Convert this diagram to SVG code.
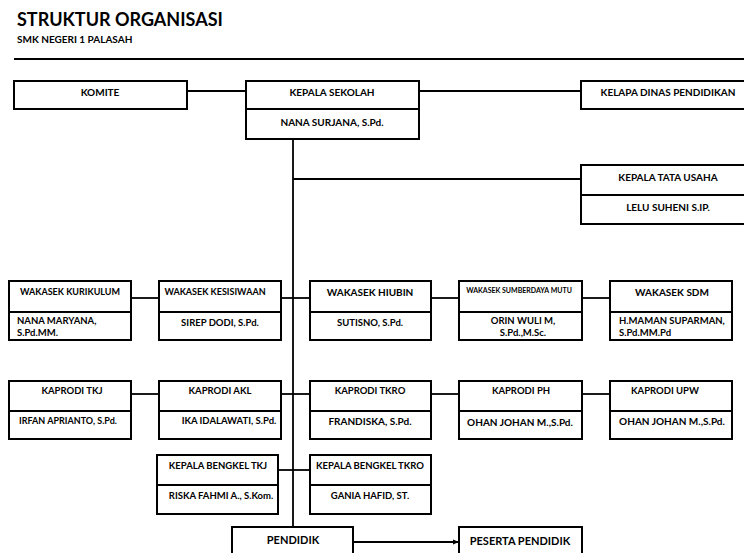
<svg xmlns="http://www.w3.org/2000/svg" width="744" height="553" viewBox="0 0 744 553">
<style>
  text { font-family: Lato, "Open Sans", "Liberation Sans", sans-serif; font-weight: bold; fill: #000; }
  .box { fill: #fff; stroke: #000; stroke-width: 2; }
  .div { stroke: #000; stroke-width: 2; }
  .c { text-anchor: middle; font-size: 10px; }
  .s { text-anchor: middle; font-size: 9.5px; }
  .n { text-anchor: middle; font-size: 9px; }
  .l { text-anchor: start; font-size: 9.5px; }
  .tiny { text-anchor: middle; font-size: 7px; }
  .big { text-anchor: middle; font-size: 11px; }
  .conn line { stroke: #000; stroke-width: 1.8; fill: none; }
</style>
<defs>
  <marker id="arrow" viewBox="0 0 10 10" refX="10" refY="5" markerWidth="6" markerHeight="6" markerUnits="userSpaceOnUse" orient="auto">
    <path d="M0,1 L10,5 L0,9 Z" fill="#000"/>
  </marker>
</defs>
<rect width="744" height="553" fill="#fff"/>
<g id="header">
  <text x="17" y="26" font-size="18">STRUKTUR ORGANISASI</text>
  <text x="17" y="43" font-size="10">SMK NEGERI 1 PALASAH</text>
  <line x1="14" y1="59" x2="744" y2="59" stroke="#000" stroke-width="2"/>
</g>
<g id="connectors" class="conn">
  <line x1="293" y1="139" x2="293" y2="527"/>
  <line x1="187" y1="91" x2="246" y2="91"/>
  <line x1="419" y1="91" x2="581" y2="91"/>
  <line x1="293" y1="179" x2="581" y2="179"/>
  <line x1="131" y1="298" x2="159" y2="298"/>
  <line x1="281" y1="298" x2="310" y2="298"/>
  <line x1="431" y1="298" x2="459" y2="298"/>
  <line x1="582" y1="298" x2="610" y2="298"/>
  <line x1="131" y1="394" x2="159" y2="394"/>
  <line x1="281" y1="394" x2="310" y2="394"/>
  <line x1="431" y1="394" x2="459" y2="394"/>
  <line x1="582" y1="394" x2="610" y2="394"/>
  <line x1="278" y1="470" x2="310" y2="470"/>
  <line x1="353" y1="542" x2="459" y2="542" marker-end="url(#arrow)"/>
</g>
<g id="komite">
  <rect class="box" x="14" y="81" width="173" height="28"/>
  <text class="c" x="100" y="96">KOMITE</text>
</g>
<g id="kepala-sekolah">
  <rect class="box" x="246" y="81" width="173" height="58"/>
  <line class="div" x1="246" y1="109" x2="419" y2="109"/>
  <text class="c" x="332" y="96">KEPALA SEKOLAH</text>
  <text class="c" x="332" y="126" font-size="10.5">NANA SURJANA, S.Pd.</text>
</g>
<g id="dinas-pendidikan">
  <rect class="box" x="581" y="81" width="174" height="28"/>
  <text class="c" x="668" y="96">KELAPA DINAS PENDIDIKAN</text>
</g>
<g id="tata-usaha">
  <rect class="box" x="581" y="165" width="174" height="59"/>
  <line class="div" x1="581" y1="195" x2="755" y2="195"/>
  <text class="c" x="668" y="181">KEPALA TATA USAHA</text>
  <text class="c" x="668" y="211">LELU SUHENI S.IP.</text>
</g>
<g id="wakasek-kurikulum">
  <rect class="box" x="9" y="281" width="122" height="59"/>
  <line class="div" x1="9" y1="312" x2="131" y2="312"/>
  <text class="n" x="70" y="295">WAKASEK KURIKULUM</text>
  <text class="l" x="17" y="324">NANA MARYANA,</text>
  <text class="l" x="17" y="336">S.Pd.MM.</text>
</g>
<g id="wakasek-kesiswaan">
  <rect class="box" x="159" y="281" width="122" height="59"/>
  <line class="div" x1="159" y1="312" x2="281" y2="312"/>
  <text class="n" x="215" y="295">WAKASEK KESISIWAAN</text>
  <text class="s" x="220" y="326">SIREP DODI, S.Pd.</text>
</g>
<g id="wakasek-hiubin">
  <rect class="box" x="310" y="281" width="121" height="59"/>
  <line class="div" x1="310" y1="312" x2="431" y2="312"/>
  <text class="c" x="370" y="296">WAKASEK HIUBIN</text>
  <text class="s" x="370" y="326">SUTISNO, S.Pd.</text>
</g>
<g id="wakasek-sumberdaya">
  <rect class="box" x="459" y="281" width="123" height="59"/>
  <line class="div" x1="459" y1="312" x2="582" y2="312"/>
  <text class="tiny" x="519" y="293">WAKASEK SUMBERDAYA MUTU</text>
  <text class="s" x="523" y="324">ORIN WULI M,</text>
  <text class="s" x="523" y="336">S.Pd.,M.Sc.</text>
</g>
<g id="wakasek-sdm">
  <rect class="box" x="610" y="281" width="122" height="59"/>
  <line class="div" x1="610" y1="312" x2="732" y2="312"/>
  <text class="c" x="672" y="296">WAKASEK SDM</text>
  <text class="l" x="619" y="324">H.MAMAN SUPARMAN,</text>
  <text class="l" x="619" y="336">S.Pd.MM.Pd</text>
</g>
<g id="kaprodi-tkj">
  <rect class="box" x="9" y="381" width="122" height="58"/>
  <line class="div" x1="9" y1="411" x2="131" y2="411"/>
  <text class="s" x="72" y="394">KAPRODI TKJ</text>
  <text class="n" x="68" y="424">IRFAN APRIANTO, S.Pd.</text>
</g>
<g id="kaprodi-akl">
  <rect class="box" x="159" y="381" width="122" height="58"/>
  <line class="div" x1="159" y1="411" x2="281" y2="411"/>
  <text class="s" x="220" y="394">KAPRODI AKL</text>
  <text class="s" x="229" y="424">IKA IDALAWATI, S.Pd.</text>
</g>
<g id="kaprodi-tkro">
  <rect class="box" x="310" y="381" width="121" height="58"/>
  <line class="div" x1="310" y1="411" x2="431" y2="411"/>
  <text class="s" x="370" y="394">KAPRODI TKRO</text>
  <text class="c" x="370" y="425">FRANDISKA, S.Pd.</text>
</g>
<g id="kaprodi-ph">
  <rect class="box" x="459" y="381" width="123" height="58"/>
  <line class="div" x1="459" y1="411" x2="582" y2="411"/>
  <text class="s" x="521" y="394">KAPRODI PH</text>
  <text class="c" x="520" y="426">OHAN JOHAN M.,S.Pd.</text>
</g>
<g id="kaprodi-upw">
  <rect class="box" x="610" y="381" width="122" height="58"/>
  <line class="div" x1="610" y1="411" x2="732" y2="411"/>
  <text class="s" x="665" y="394">KAPRODI UPW</text>
  <text class="c" x="672" y="425">OHAN JOHAN M.,S.Pd.</text>
</g>
<g id="bengkel-tkj">
  <rect class="box" x="157" y="455" width="121" height="59"/>
  <line class="div" x1="157" y1="485" x2="278" y2="485"/>
  <text class="s" x="218" y="469">KEPALA BENGKEL TKJ</text>
  <text class="s" x="221" y="499">RISKA FAHMI A., S.Kom.</text>
</g>
<g id="bengkel-tkro">
  <rect class="box" x="310" y="455" width="121" height="59"/>
  <line class="div" x1="310" y1="485" x2="431" y2="485"/>
  <text class="s" x="370" y="469">KEPALA BENGKEL TKRO</text>
  <text class="s" x="370" y="499">GANIA HAFID, ST.</text>
</g>
<g id="pendidik">
  <rect class="box" x="232" y="527" width="121" height="40"/>
  <text class="big" x="293" y="544">PENDIDIK</text>
</g>
<g id="peserta-pendidik">
  <rect class="box" x="459" y="527" width="123" height="40"/>
  <text class="big" x="520" y="545">PESERTA PENDIDIK</text>
</g>
</svg>
